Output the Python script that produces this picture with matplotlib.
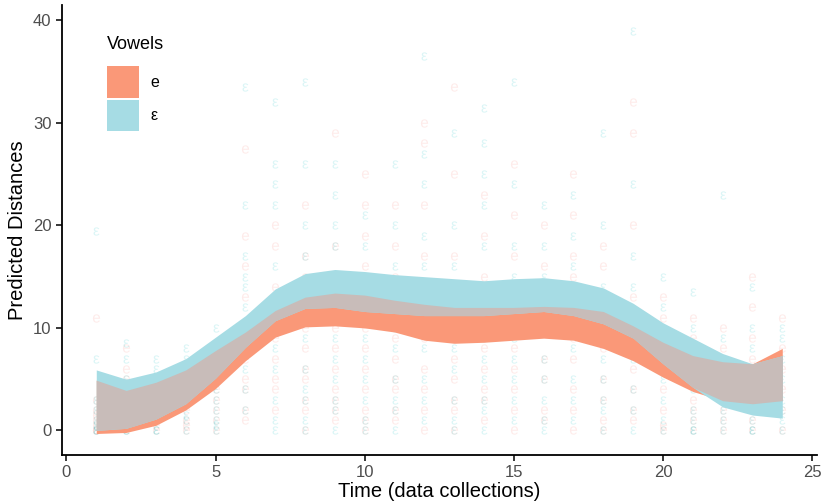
import numpy as np
import matplotlib.pyplot as plt
from matplotlib.patches import Patch

plt.rcParams['font.family'] = ['Liberation Sans', 'DejaVu Sans']
plt.rcParams['mathtext.default'] = 'regular'

# time points (data collections)
time = np.arange(1, 25)

# confidence ribbons
e_low = [-0.3, -0.2, 0.5, 2.0, 4.1, 6.8, 9.1, 10.1, 10.2, 10.0, 9.6, 8.8,
         8.5, 8.6, 8.8, 9.0, 8.8, 8.0, 6.8, 5.2, 3.8, 2.9, 2.6, 2.9]
e_high = [4.9, 3.9, 4.7, 5.9, 7.8, 9.6, 11.7, 13.0, 13.4, 13.2, 12.7, 12.3,
          12.0, 12.0, 12.0, 12.1, 12.0, 11.6, 10.2, 8.6, 7.3, 6.7, 6.5, 8.0]
eps_low = [0.0, 0.2, 1.1, 2.6, 5.1, 8.1, 10.7, 11.9, 12.0, 11.6, 11.4, 11.2,
           11.2, 11.2, 11.4, 11.6, 11.2, 10.4, 9.0, 6.5, 4.2, 2.3, 1.5, 1.2]
eps_high = [5.9, 5.0, 5.7, 7.0, 9.1, 11.2, 13.8, 15.3, 15.7, 15.5, 15.2, 15.0,
            14.8, 14.6, 14.8, 14.9, 14.6, 13.9, 12.4, 10.5, 9.0, 7.5, 6.5, 7.3]

# raw distances per time point (faint glyphs)
e_obs = [
    [0, 0, 0.5, 1, 1.5, 2, 3, 11],
    [0, 0.5, 1, 2, 3, 4, 5, 6, 8],
    [0, 0.5, 1, 2, 3, 5],
    [0, 0.5, 1, 2, 3, 4, 6],
    [0, 1, 2, 3, 4, 5, 6, 8],
    [1, 2, 4, 5, 7, 9, 13, 16, 19, 27.5],
    [2, 4, 5, 7, 9, 11, 14, 18, 20],
    [0, 2, 3, 5, 6, 8, 10, 15, 17, 22],
    [1, 2, 3, 4, 6, 8, 10, 12, 15, 18, 29],
    [0, 1, 2, 4, 6, 8, 10, 13, 16, 19, 22, 25],
    [1, 2, 4, 5, 7, 9, 12, 15, 18, 22],
    [0, 2, 4, 6, 9, 11, 14, 17, 22, 28, 30],
    [0, 2, 3, 5, 7, 9, 11, 14, 17, 25, 33.5],
    [1, 3, 4, 6, 8, 10, 12, 15, 19, 23],
    [0, 2, 4, 6, 8, 11, 14, 17, 21, 26],
    [1, 2, 5, 7, 10, 13, 16, 20],
    [0, 2, 4, 7, 9, 12, 15, 17, 21, 25],
    [0, 1, 3, 5, 8, 10, 13, 16, 18],
    [1, 2, 4, 6, 8, 10, 13, 20, 29, 32],
    [0, 0.5, 2, 4, 6, 8, 11, 13],
    [0, 1, 2, 3, 5, 7, 9, 11],
    [0, 1, 2, 4, 6, 8, 10],
    [0, 1, 2, 3, 5, 7, 9, 12, 15],
    [0, 2, 4, 6, 8, 11],
]
eps_obs = [
    [0, 0, 0.5, 1, 2, 3, 7, 19.5],
    [0, 0, 1, 2, 3, 5, 7, 8.5],
    [0, 0, 1, 2, 4, 6, 7],
    [0, 1, 1.5, 3, 5, 7, 8],
    [0, 0.5, 1, 2, 3, 4, 5, 7, 10],
    [2, 4, 6, 8, 10, 12, 14, 15, 17, 22, 33.5],
    [0, 1, 3, 6, 8, 10, 12, 16, 22, 24, 26, 32],
    [0, 1, 3, 4, 6, 9, 12, 14, 17, 20, 26, 34],
    [0, 2, 3, 5, 7, 9, 11, 14, 18, 20, 23, 26],
    [0, 1, 3, 5, 7, 9, 12, 15, 18, 21],
    [0, 2, 3, 5, 8, 10, 13, 16, 20, 26],
    [1, 3, 5, 8, 11, 13, 16, 19, 24, 27, 36.5],
    [0, 1, 3, 6, 8, 10, 13, 16, 20, 29],
    [0, 2, 3, 5, 7, 9, 12, 14, 18, 22, 25, 28, 31.5],
    [1, 3, 5, 7, 9, 12, 15, 18, 24, 34],
    [0, 1, 3, 5, 7, 10, 12, 15, 18, 22],
    [1, 3, 5, 8, 10, 13, 16, 19, 23],
    [0, 2, 3, 5, 7, 9, 12, 14, 20, 29],
    [0, 2, 4, 7, 9, 11, 14, 17, 24, 39],
    [0, 1, 3, 5, 7, 9, 12, 15],
    [0, 0, 1, 2, 4, 6, 8, 10, 13.5],
    [0, 1, 2, 3, 5, 7, 9, 23],
    [0, 0, 1, 2, 4, 6, 8, 10, 14],
    [0, 1, 2, 3, 5, 7, 9, 10],
]

red = '#F8766D'
cyan = '#00BFC4'
e_fill = '#FA9878'
eps_fill = '#A6DCE4'
both_fill = '#C8BCB9'

fig = plt.figure(figsize=(8.22, 5.03), dpi=100)
ax = fig.add_axes([0.0754, 0.0954, 0.918, 0.8946])

# faint raw observations
for t, ys in zip(time, e_obs):
    ax.scatter([t] * len(ys), ys, marker='$e$', s=36, color=red, alpha=0.14,
               linewidths=0, zorder=1)
for t, ys in zip(time, eps_obs):
    ax.scatter([t] * len(ys), ys, marker='$ε$', s=36, color=cyan,
               alpha=0.14, linewidths=0, zorder=1)

e_low = np.array(e_low)
e_high = np.array(e_high)
eps_low = np.array(eps_low)
eps_high = np.array(eps_high)

ax.fill_between(time, e_low, e_high, color=e_fill, lw=0, zorder=2)
ax.fill_between(time, eps_low, eps_high, color=eps_fill, lw=0, zorder=2)
ov_low = np.maximum(e_low, eps_low)
ov_high = np.minimum(e_high, eps_high)
ax.fill_between(time, ov_low, ov_high, where=ov_high > ov_low,
                interpolate=True, color=both_fill, lw=0, zorder=3)

ax.set_xlim(-0.15, 25.15)
ax.set_ylim(-2.4, 41.5)
ax.set_xticks([0, 5, 10, 15, 20, 25])
ax.set_yticks([0, 10, 20, 30, 40])
ax.spines['top'].set_visible(False)
ax.spines['right'].set_visible(False)
for s in ['left', 'bottom']:
    ax.spines[s].set_linewidth(1.3)
ax.tick_params(length=4, width=1.1, labelsize=12, labelcolor='#4D4D4D')
ax.set_xlabel('Time (data collections)', fontsize=14.5, labelpad=1)
ax.set_ylabel('Predicted Distances', fontsize=14.5, labelpad=4)

handles = [Patch(facecolor=e_fill, edgecolor='none'),
           Patch(facecolor=eps_fill, edgecolor='none')]
leg = ax.legend(handles, ['e', 'ε'], title='Vowels', loc='upper left',
                bbox_to_anchor=(0.045, 0.955), frameon=False, fontsize=11.5,
                title_fontsize=13, handlelength=2.0, handleheight=2.7,
                handletextpad=0.7, labelspacing=0.1, borderaxespad=0.3)
leg._legend_box.align = 'left'
leg._legend_box.sep = 9

fig.savefig('out.png', dpi=100)
